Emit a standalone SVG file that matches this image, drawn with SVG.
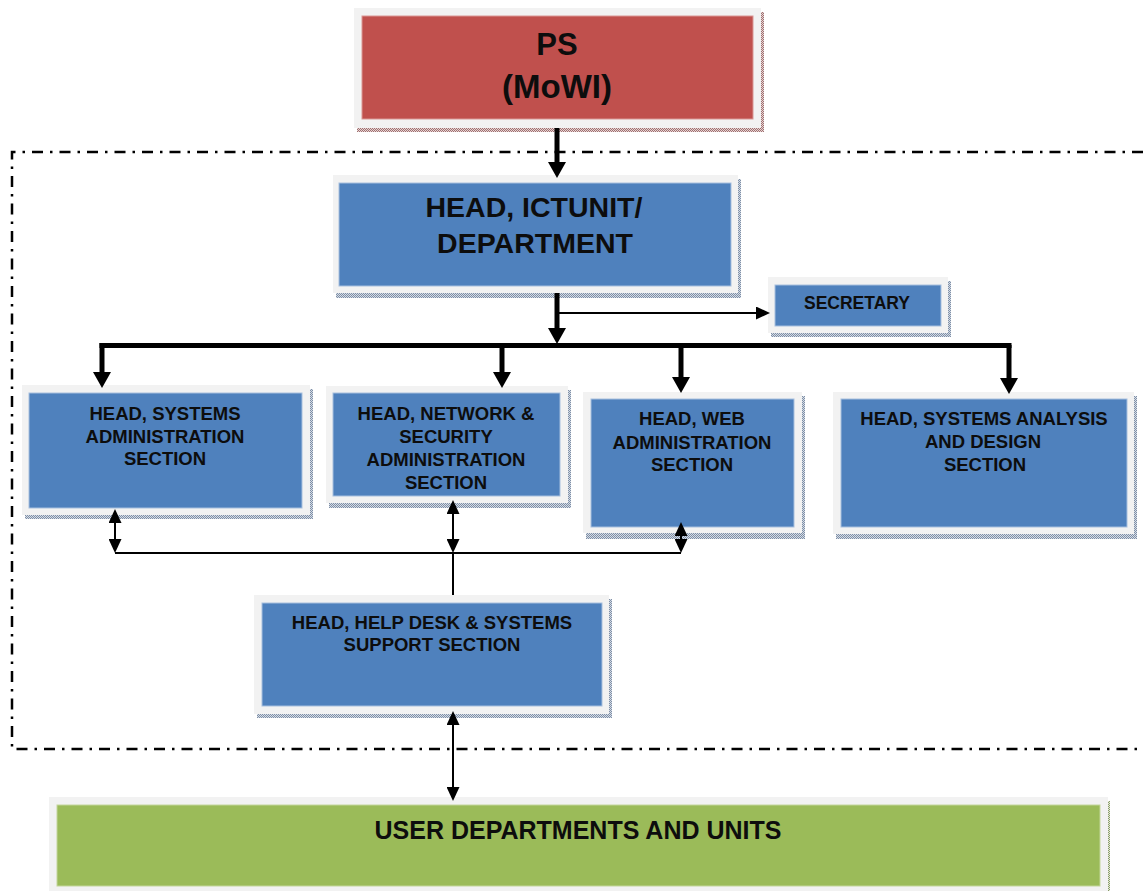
<svg xmlns="http://www.w3.org/2000/svg" width="1143" height="891" viewBox="0 0 1143 891">
<style>
.frame{fill:#F2F2F2}
.blue{fill:#4F81BD;stroke:#A7BFDE;stroke-width:1}
.red{fill:#C0504D;stroke:#D99694;stroke-width:1}
.green{fill:#9BBB59;stroke:#C3D69B;stroke-width:1}
.sb{fill:url(#dotB)}
.sr{fill:url(#dotR)}
.sg{fill:url(#dotG)}
text{font-family:"Liberation Sans",Arial,sans-serif;font-weight:bold;fill:#0D0D0D;text-anchor:middle}
.t18{font-size:18.5px}
.thick{stroke:#000;stroke-width:5;fill:none}
.thin{stroke:#000;stroke-width:2;fill:none}
.border{stroke:#000;stroke-width:2.5;fill:none;stroke-dasharray:11 7 2.5 7}
</style>
<defs>
<pattern id="dotB" width="2" height="2" patternUnits="userSpaceOnUse"><rect width="2" height="2" fill="#D5DCE6"/><rect width="1" height="1" fill="#7F8FA6"/><rect x="1" y="1" width="1" height="1" fill="#7F8FA6"/></pattern>
<pattern id="dotR" width="2" height="2" patternUnits="userSpaceOnUse"><rect width="2" height="2" fill="#E6D5D5"/><rect width="1" height="1" fill="#A07070"/><rect x="1" y="1" width="1" height="1" fill="#A07070"/></pattern>
<pattern id="dotG" width="2" height="2" patternUnits="userSpaceOnUse"><rect width="2" height="2" fill="#E2E9D5"/><rect width="1" height="1" fill="#8A9A6A"/><rect x="1" y="1" width="1" height="1" fill="#8A9A6A"/></pattern>
<marker id="ah" viewBox="0 0 16 18" markerWidth="16" markerHeight="18" refX="4" refY="9" orient="auto" markerUnits="userSpaceOnUse"><path d="M0,0 L16,9 L0,18 Z" fill="#000"/></marker>
<marker id="ahs" viewBox="0 0 14 13" markerWidth="14" markerHeight="13" refX="3" refY="6.5" orient="auto-start-reverse" markerUnits="userSpaceOnUse"><path d="M0,0 L14,6.5 L0,13 Z" fill="#000"/></marker>
</defs>
<rect width="1143" height="891" fill="#FFFFFF"/>
<g id="boundary">
<path class="border" d="M1143,152 H12 V749 H1143"/>
</g>
<g id="ps">
<rect class="sr" x="357" y="12" width="407" height="120"/>
<rect class="frame" x="354" y="8" width="407" height="120"/>
<rect class="red" x="362" y="16" width="391" height="103"/>
<text x="557" y="55" style="font-size:31px">PS</text>
<text x="557" y="98" style="font-size:33px">(MoWI)</text>
</g>
<g id="head-ict">
<rect class="sb" x="336" y="179" width="405" height="119"/>
<rect class="frame" x="333" y="175" width="405" height="118"/>
<rect class="blue" x="339" y="183" width="392" height="103"/>
<text x="534" y="217" style="font-size:28.5px">HEAD, ICTUNIT/</text>
<text x="535" y="253" style="font-size:28.5px">DEPARTMENT</text>
</g>
<g id="secretary">
<rect class="sb" x="771" y="281" width="180" height="56"/>
<rect class="frame" x="768" y="277" width="180" height="56"/>
<rect class="blue" x="775" y="285" width="166" height="41"/>
<text x="857" y="309" style="font-size:17.5px">SECRETARY</text>
</g>
<g id="sysadmin">
<rect class="sb" x="25" y="389" width="288" height="130"/>
<rect class="frame" x="22" y="385" width="288" height="130"/>
<rect class="blue" x="29" y="393" width="273" height="115"/>
<text class="t18" x="165" y="419.5">HEAD, SYSTEMS</text>
<text class="t18" x="165" y="443">ADMINISTRATION</text>
<text class="t18" x="165" y="465">SECTION</text>
</g>
<g id="network">
<rect class="sb" x="329" y="390" width="242" height="118"/>
<rect class="frame" x="326" y="386" width="242" height="117"/>
<rect class="blue" x="333" y="393" width="227" height="103"/>
<text class="t18" x="446" y="420">HEAD, NETWORK &amp;</text>
<text class="t18" x="446" y="443">SECURITY</text>
<text class="t18" x="446" y="466">ADMINISTRATION</text>
<text class="t18" x="446" y="489">SECTION</text>
</g>
<g id="web">
<rect class="sb" x="586" y="396" width="219" height="143"/>
<rect class="frame" x="583" y="392" width="219" height="141"/>
<rect class="blue" x="591" y="399" width="203" height="128"/>
<text class="t18" x="692" y="425">HEAD, WEB</text>
<text class="t18" x="692" y="449">ADMINISTRATION</text>
<text class="t18" x="692" y="470.5">SECTION</text>
</g>
<g id="analysis">
<rect class="sb" x="836" y="396" width="301" height="143"/>
<rect class="frame" x="833" y="392" width="301" height="142"/>
<rect class="blue" x="841" y="399" width="286" height="128"/>
<text class="t18" x="984" y="425">HEAD, SYSTEMS ANALYSIS</text>
<text class="t18" x="983" y="448">AND DESIGN</text>
<text class="t18" x="985" y="470.5">SECTION</text>
</g>
<g id="helpdesk">
<rect class="sb" x="257" y="599" width="355" height="119"/>
<rect class="frame" x="254" y="595" width="355" height="119"/>
<rect class="blue" x="262" y="603" width="340" height="103"/>
<text class="t18" x="432" y="629">HEAD, HELP DESK &amp; SYSTEMS</text>
<text class="t18" x="432" y="650.5">SUPPORT SECTION</text>
</g>
<g id="users">
<rect class="sg" x="52" y="801" width="1058" height="95"/>
<rect class="frame" x="49" y="797" width="1059" height="95"/>
<rect class="green" x="57" y="805" width="1043" height="81"/>
<text x="578" y="839" style="font-size:25px">USER DEPARTMENTS AND UNITS</text>
</g>
<g id="connectors">
<line class="thick" x1="557" y1="128" x2="557" y2="166" marker-end="url(#ah)"/>
<line class="thick" x1="557" y1="293" x2="557" y2="332" marker-end="url(#ah)"/>
<line class="thin" x1="557" y1="313" x2="759" y2="313" marker-end="url(#ahs)"/>
<line class="thick" x1="99.5" y1="345.5" x2="1011.5" y2="345.5"/>
<line class="thick" x1="102" y1="343" x2="102" y2="376" marker-end="url(#ah)"/>
<line class="thick" x1="502" y1="345" x2="502" y2="376" marker-end="url(#ah)"/>
<line class="thick" x1="681" y1="345" x2="681" y2="381" marker-end="url(#ah)"/>
<line class="thick" x1="1009" y1="345" x2="1009" y2="382" marker-end="url(#ah)"/>
<line class="thin" x1="115" y1="520" x2="115" y2="542" marker-start="url(#ahs)" marker-end="url(#ahs)"/>
<line class="thin" x1="453" y1="511" x2="453" y2="542" marker-start="url(#ahs)" marker-end="url(#ahs)"/>
<line class="thin" x1="681" y1="533" x2="681" y2="542" marker-start="url(#ahs)" marker-end="url(#ahs)"/>
<line class="thin" x1="115" y1="553" x2="681" y2="553"/>
<line class="thin" x1="453" y1="553" x2="453" y2="595"/>
<line class="thin" x1="453" y1="722" x2="453" y2="790" marker-start="url(#ahs)" marker-end="url(#ahs)"/>
</g>
</svg>
